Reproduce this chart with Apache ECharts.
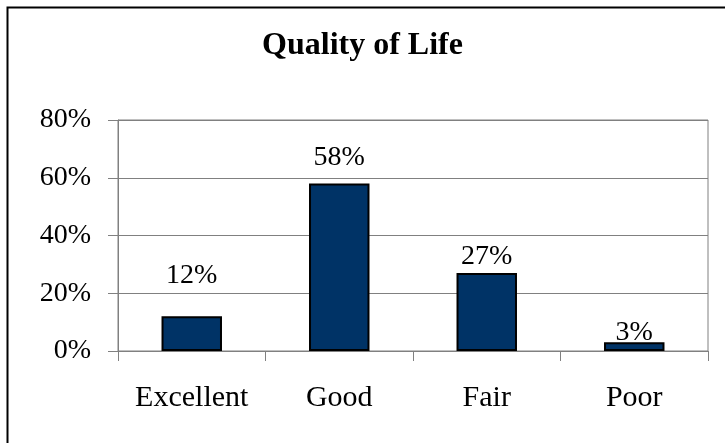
<!DOCTYPE html>
<html>
<head>
<meta charset="utf-8">
<style>
  html, body { margin: 0; padding: 0; background: #fff; }
  #main { width: 725px; height: 443px; }
</style>
<script src="https://cdn.jsdelivr.net/npm/echarts@6/dist/echarts.min.js"></script>
</head>
<body>
<div id="main"></div>
<script>
// data
var categories = ['Excellent', 'Good', 'Fair', 'Poor']
var values = [12, 58, 27, 3]
var yTicks = [0, 20, 40, 60, 80]

var serif = '"Liberation Serif", "DejaVu Serif", serif'

// label distance above each bar (Excel put the first one higher)
var labelGap = [27, 12, 2, -4]

var myChart = echarts.init(document.getElementById('main'))

var option = {
  animation: false,
  title: {
    text: 'Quality of Life',
    left: 'center',
    top: 25,
    textStyle: {
      fontFamily: serif,
      fontWeight: 'bold',
      fontSize: 32,
      color: '#000'
    }
  },
  graphic: [
    {
      // outer chart border (only left/top visible)
      type: 'rect',
      left: 5,
      top: 5,
      shape: { width: 800, height: 500 },
      style: { fill: 'none', stroke: '#000', lineWidth: 2 }
    }
  ],
  grid: {
    left: 118,
    right: 17,
    top: 120,
    bottom: 92,
    show: true,
    borderColor: '#808080',
    borderWidth: 1,
    containLabel: false
  },
  xAxis: {
    type: 'category',
    data: categories,
    axisLine: { lineStyle: { color: '#808080', width: 1 } },
    axisTick: { show: true, length: 10, lineStyle: { color: '#808080' } },
    axisLabel: {
      color: '#000',
      fontFamily: serif,
      fontSize: 30,
      margin: 32
    }
  },
  yAxis: {
    type: 'value',
    min: yTicks[0],
    max: yTicks[yTicks.length - 1],
    interval: 20,
    axisLine: { show: true, lineStyle: { color: '#808080', width: 1 } },
    axisTick: { show: true, length: 10, lineStyle: { color: '#808080' } },
    splitLine: { lineStyle: { color: '#808080', width: 1 } },
    axisLabel: {
      color: '#000',
      fontFamily: serif,
      fontSize: 28,
      margin: 27,
      formatter: '{value}%'
    }
  },
  series: [
    {
      type: 'bar',
      barWidth: '41%',
      data: values.map(function (v, i) {
        return {
          value: v,
          label: { distance: labelGap[i] }
        }
      }),
      itemStyle: {
        color: '#003366',
        borderColor: '#000',
        borderWidth: 2
      },
      label: {
        show: true,
        position: 'top',
        color: '#000',
        fontFamily: serif,
        fontSize: 28,
        formatter: '{c}%'
      }
    }
  ]
}

myChart.setOption(option)
window.onresize = myChart.resize
</script>
</body>
</html>
